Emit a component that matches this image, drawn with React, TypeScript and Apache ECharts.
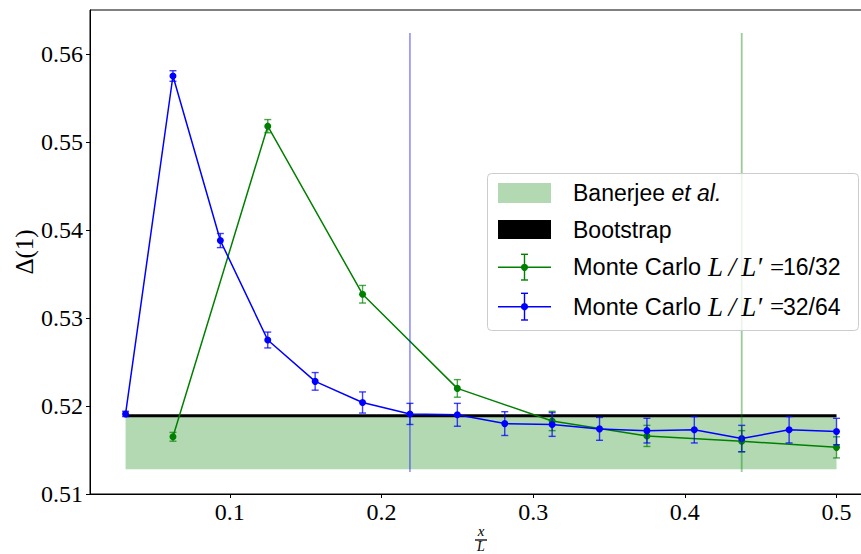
import React, { useEffect, useRef } from "react";
import * as echarts from "echarts";

// ---- data ----
const blueX = [0.03125, 0.0625, 0.09375, 0.125, 0.15625, 0.1875, 0.21875, 0.25, 0.28125, 0.3125, 0.34375, 0.375, 0.40625, 0.4375, 0.46875, 0.5];
const blueY = [0.5191, 0.5575, 0.5388, 0.5275, 0.5228, 0.5204, 0.5191, 0.519, 0.518, 0.5179, 0.5174, 0.5172, 0.5173, 0.5163, 0.5173, 0.5171];
const blueErr = [0.0003, 0.0006, 0.0008, 0.0009, 0.001, 0.0012, 0.0012, 0.0013, 0.00135, 0.00135, 0.0013, 0.0014, 0.0015, 0.0015, 0.0015, 0.0015];

const greenX = [0.0625, 0.125, 0.1875, 0.25, 0.3125, 0.375, 0.4375, 0.5];
const greenY = [0.5165, 0.5518, 0.5327, 0.522, 0.5183, 0.5166, 0.516, 0.5153];
const greenErr = [0.0005, 0.00075, 0.001, 0.001, 0.0011, 0.0012, 0.0012, 0.0012];

const bandX = [0.03125, 0.5];
const bandY = [0.5128, 0.5189];
const bootstrapY = 0.5189;
const vlineBlueX = 0.21875;
const vlineGreenX = 0.4375;
const vlineY = [0.5125, 0.5624];

const xTicks = [0.1, 0.2, 0.3, 0.4, 0.5];
const yTicks = [0.51, 0.52, 0.53, 0.54, 0.55, 0.56];

const legendNames = ["Banerjee", "et al.", "Bootstrap", "Monte Carlo", "L\u2009/\u2009L\u2032", "=", "16/32", "32/64"];

const BLUE = "#0000ff";
const GREEN = "#008000";
const SERIF = "Liberation Serif";
const SANS = "Liberation Sans";

function errRender(color: string) {
  return (params: any, api: any) => {
    const x = api.value(0);
    const y = api.value(1);
    const e = api.value(2);
    const p1 = api.coord([x, y + e]);
    const p2 = api.coord([x, y - e]);
    const w = 3.5;
    const style = { stroke: color, lineWidth: 1.4, fill: "none" };
    return {
      type: "group",
      children: [
        { type: "line", shape: { x1: p1[0], y1: p1[1], x2: p2[0], y2: p2[1] }, style },
        { type: "line", shape: { x1: p1[0] - w, y1: p1[1], x2: p1[0] + w, y2: p1[1] }, style },
        { type: "line", shape: { x1: p2[0] - w, y1: p2[1], x2: p2[0] + w, y2: p2[1] }, style },
      ],
    };
  };
}

function legendMC(y: number, color: string, yTop: number, yBot: number, label: string, z: number) {
  return [
    { type: "line", z, shape: { x1: 498, y1: y, x2: 551, y2: y }, style: { stroke: color, lineWidth: 1.5 } },
    { type: "line", z, shape: { x1: 524.5, y1: yTop, x2: 524.5, y2: yBot }, style: { stroke: color, lineWidth: 1.4 } },
    { type: "line", z, shape: { x1: 521, y1: yTop, x2: 528, y2: yTop }, style: { stroke: color, lineWidth: 1.4 } },
    { type: "line", z, shape: { x1: 521, y1: yBot, x2: 528, y2: yBot }, style: { stroke: color, lineWidth: 1.4 } },
    { type: "circle", z, shape: { cx: 524.5, cy: y, r: 3.6 }, style: { fill: color } },
    {
      type: "text",
      z,
      x: 573,
      y,
      style: {
        text: `{s|${legendNames[3]}}{m|${legendNames[4]}}{r|${legendNames[5]}}{n|${label}}`,
        verticalAlign: "middle",
        rich: {
          s: { fontFamily: SANS, fontSize: 23.5, fill: "#000", width: 135 },
          m: { fontFamily: SERIF, fontStyle: "italic", fontSize: 27, fill: "#000", width: 62 },
          r: { fontFamily: SERIF, fontSize: 25, fill: "#000", width: 13 },
          n: { fontFamily: SANS, fontSize: 23, fill: "#000" },
        },
      },
    },
  ];
}

export default function App() {
  const ref = useRef<HTMLDivElement>(null);
  useEffect(() => {
    if (!ref.current) return;
    const chart = echarts.init(ref.current, undefined, { renderer: "svg" });
    const Z = 100;
    const option: any = {
      animation: false,
      backgroundColor: "#fff",
      grid: { left: 90, top: 10, right: 0, bottom: 60, show: true, borderColor: "#000", borderWidth: 1, backgroundColor: "transparent" },
      xAxis: {
        type: "value",
        min: 0.0078,
        max: 0.5234,
        axisLine: { show: true, lineStyle: { color: "#000", width: 1 } },
        axisTick: { show: true, customValues: xTicks, length: 4, inside: false, lineStyle: { color: "#000" } },
        axisLabel: {
          customValues: xTicks,
          formatter: (v: number) => v.toFixed(1),
          fontFamily: SERIF,
          fontSize: 24,
          color: "#000",
          margin: 6,
        },
        splitLine: { show: false },
      },
      yAxis: {
        type: "value",
        min: 0.51,
        max: 0.565,
        axisLine: { show: true, lineStyle: { color: "#000", width: 1 } },
        axisTick: { show: true, customValues: yTicks, length: 4, inside: false, lineStyle: { color: "#000" } },
        axisLabel: {
          customValues: yTicks,
          formatter: (v: number) => v.toFixed(2),
          fontFamily: SERIF,
          fontSize: 24,
          color: "#000",
          margin: 7,
        },
        splitLine: { show: false },
      },
      series: [
        {
          type: "custom",
          name: "Banerjee et al.",
          z: 1,
          data: [[bandX[0], bandX[1], bandY[0], bandY[1]]],
          encode: { x: [0, 1], y: [2, 3] },
          renderItem: (params: any, api: any) => {
            const p1 = api.coord([api.value(0), api.value(3)]);
            const p2 = api.coord([api.value(1), api.value(2)]);
            return {
              type: "rect",
              shape: { x: p1[0], y: p1[1], width: p2[0] - p1[0], height: p2[1] - p1[1] },
              style: { fill: "rgba(0,128,0,0.3)" },
            };
          },
        },
        {
          type: "line",
          name: "Bootstrap",
          z: 2,
          symbol: "none",
          data: [[bandX[0], bootstrapY], [bandX[1], bootstrapY]],
          lineStyle: { color: "#000", width: 3 },
        },
        {
          type: "line",
          name: "Monte Carlo 16/32",
          z: 3,
          data: greenX.map((x, i) => [x, greenY[i]]),
          symbol: "circle",
          symbolSize: 7,
          itemStyle: { color: GREEN },
          lineStyle: { color: GREEN, width: 1.5 },
        },
        {
          type: "custom",
          z: 3,
          data: greenX.map((x, i) => [x, greenY[i], greenErr[i]]),
          encode: { x: 0, y: 1 },
          renderItem: errRender("rgba(0,128,0,0.7)"),
        },
        {
          type: "line",
          name: "Monte Carlo 32/64",
          z: 4,
          data: blueX.map((x, i) => [x, blueY[i]]),
          symbol: "circle",
          symbolSize: 7,
          itemStyle: { color: BLUE },
          lineStyle: { color: BLUE, width: 1.5 },
        },
        {
          type: "custom",
          z: 4,
          data: blueX.map((x, i) => [x, blueY[i], blueErr[i]]),
          encode: { x: 0, y: 1 },
          renderItem: errRender("rgba(0,0,255,0.75)"),
        },
        {
          type: "line",
          z: 5,
          symbol: "none",
          data: [[vlineBlueX, vlineY[0]], [vlineBlueX, vlineY[1]]],
          lineStyle: { color: "rgba(0,0,255,0.55)", width: 1.3 },
        },
        {
          type: "line",
          z: 5,
          symbol: "none",
          data: [[vlineGreenX, vlineY[0]], [vlineGreenX, vlineY[1]]],
          lineStyle: { color: "rgba(0,128,0,0.4)", width: 1.8 },
        },
      ],
      graphic: [
        // y axis label
        {
          type: "text",
          z: Z,
          x: 24,
          y: 252,
          rotation: Math.PI / 2,
          style: { text: "\u0394(1)", fontFamily: SERIF, fontSize: 25, fill: "#000", align: "center", verticalAlign: "middle" },
        },
        // x axis label (fraction x / L)
        { type: "text", z: Z, x: 481, y: 531, style: { text: "x", fontFamily: SERIF, fontStyle: "italic", fontSize: 15, fill: "#000", align: "center", verticalAlign: "middle" } },
        { type: "line", z: Z, shape: { x1: 475, y1: 540, x2: 487, y2: 540 }, style: { stroke: "#000", lineWidth: 1.3 } },
        { type: "text", z: Z, x: 481, y: 546.5, style: { text: "L", fontFamily: SERIF, fontStyle: "italic", fontSize: 14, fill: "#000", align: "center", verticalAlign: "middle" } },
        // legend box
        {
          type: "rect",
          z: Z,
          shape: { x: 487.5, y: 173.5, width: 371, height: 157, r: 4 },
          style: { fill: "rgba(255,255,255,0.8)", stroke: "#cccccc", lineWidth: 1 },
        },
        { type: "rect", z: Z, shape: { x: 498, y: 183, width: 53, height: 20 }, style: { fill: "rgba(0,128,0,0.3)" } },
        {
          type: "text",
          z: Z,
          x: 573,
          y: 193,
          style: {
            text: `{s|${legendNames[0]} }{i|${legendNames[1]}}`,
            verticalAlign: "middle",
            rich: {
              s: { fontFamily: SANS, fontSize: 23, fill: "#000" },
              i: { fontFamily: SANS, fontStyle: "italic", fontSize: 23, fill: "#000" },
            },
          },
        },
        { type: "rect", z: Z, shape: { x: 498, y: 220, width: 53, height: 19 }, style: { fill: "#000" } },
        {
          type: "text",
          z: Z,
          x: 573,
          y: 230,
          style: { text: legendNames[2], fontFamily: SANS, fontSize: 23, fill: "#000", verticalAlign: "middle" },
        },
        ...legendMC(267.3, GREEN, 254.3, 280, legendNames[6], Z),
        ...legendMC(306.7, BLUE, 293.3, 320, legendNames[7], Z),
      ],
    };
    chart.setOption(option);
    return () => chart.dispose();
  }, []);
  return (
    <div style={{ position: "fixed", left: 0, top: 0, width: 861, height: 554, overflow: "hidden" }}>
      <div ref={ref} style={{ width: 872, height: 554 }} />
    </div>
  );
}
